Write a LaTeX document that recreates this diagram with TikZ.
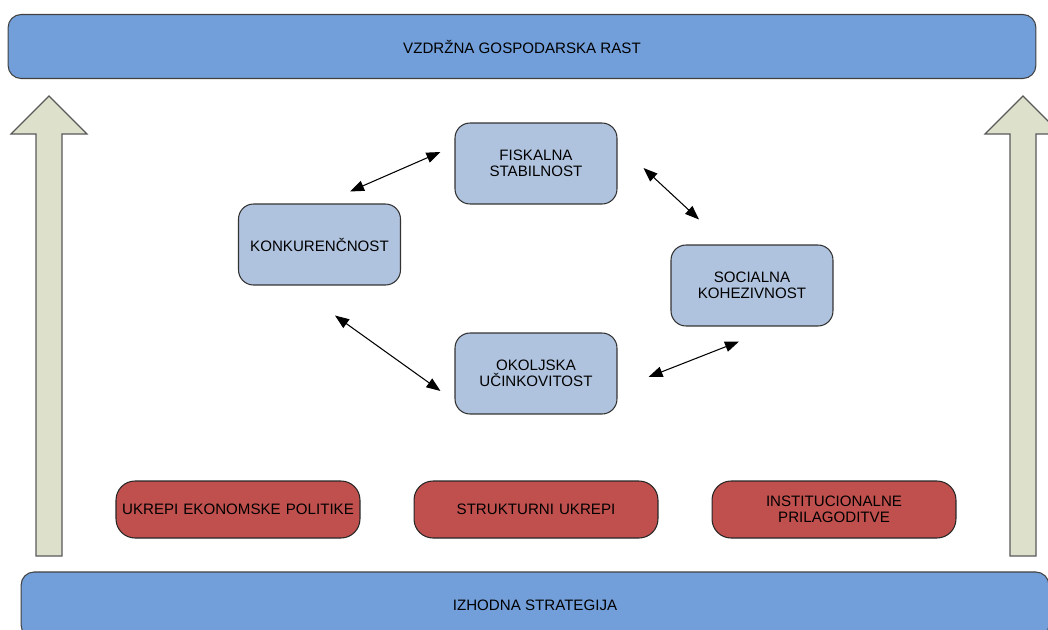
\documentclass[tikz,border=0pt]{standalone}
\usepackage{fontspec}
\setmainfont{Liberation Sans}
\usepackage{tikz}
\usetikzlibrary{arrows.meta,positioning}

\definecolor{barblue}{HTML}{729FD9}
\definecolor{nodeblue}{HTML}{B0C3DE}
\definecolor{ukrepred}{HTML}{C0504D}
\definecolor{arrowgreen}{HTML}{DDE1CC}

\begin{document}
\begin{tikzpicture}[
			x=0.02cm, y=-0.02cm,
			font=\fontsize{8.6}{9.3}\selectfont,
			bar/.style={rectangle, draw=black!75, fill=barblue, rounded corners=0.26cm, minimum width=20.56cm, minimum height=1.28cm, line width=0.6pt},
			block/.style={rectangle, draw=black!80, fill=nodeblue, rounded corners=0.3cm, minimum width=3.24cm, minimum height=1.62cm, text width=2.9cm, align=center, line width=0.6pt},
			ukrep/.style={rectangle, draw=black!85, fill=ukrepred, rounded corners=0.38cm, minimum width=4.88cm, minimum height=1.14cm, inner xsep=1pt, text width=4.8cm, align=center, line width=0.6pt},
			bigarrow/.style={draw=black!65, fill=arrowgreen, line width=0.7pt},
			line/.style={draw, {Triangle[length=8pt,width=6pt]}-{Triangle[length=8pt,width=6pt]}, line width=0.6pt}
			]
			\useasboundingbox (0,0) rectangle (1048,629);
			% Pasici
			\node [bar] (rast) at (522,46.5) {VZDRŽNA GOSPODARSKA RAST};
			\node [bar, minimum height=1.32cm] (izhod) at (535,605) {IZHODNA STRATEGIJA};
			
			% Puscici
			\path [bigarrow] (36,556) -- (36,134) -- (11,134) -- (49,96) -- (87,134) -- (62,134) -- (62,556) -- cycle;
			\path [bigarrow] (1010,556) -- (1010,134) -- (985,134) -- (1023,96) -- (1061,134) -- (1036,134) -- (1036,556) -- cycle;
			
			% Vozlisca
			\node [block] (fiskal) at (536,163.5) {FISKALNA\\STABILNOST};
			\node [block] (konk) at (319.5,244.5) {KONKURENČNOST};
			\node [block] (social) at (752,285.5) {SOCIALNA\\KOHEZIVNOST};
			\node [block] (okolj) at (536,373.5) {OKOLJSKA\\UČINKOVITOST};
			
			\node [ukrep] (ekon) at (238,509.5) {UKREPI EKONOMSKE POLITIKE};
			\node [ukrep] (strukt) at (536,509.5) {STRUKTURNI UKREPI};
			\node [ukrep] (instit) at (834,509.5) {INSTITUCIONALNE\\PRILAGODITVE};
			
			% Povezave
			\path [line] ([xshift=0.61cm, yshift=0.24cm]konk.north) -- ([xshift=-0.28cm, yshift=0.23cm]fiskal.west);
			\path [line] ([xshift=0.52cm, yshift=-0.09cm]fiskal.east) -- ([xshift=-1.06cm, yshift=0.5cm]social.north);
			\path [line] ([xshift=0.31cm, yshift=-0.6cm]konk.south) -- ([xshift=-0.28cm, yshift=-0.35cm]okolj.west);
			\path [line] ([xshift=0.62cm, yshift=-0.07cm]okolj.east) -- ([xshift=-0.26cm, yshift=-0.3cm]social.south);
		\end{tikzpicture}
\end{document}
